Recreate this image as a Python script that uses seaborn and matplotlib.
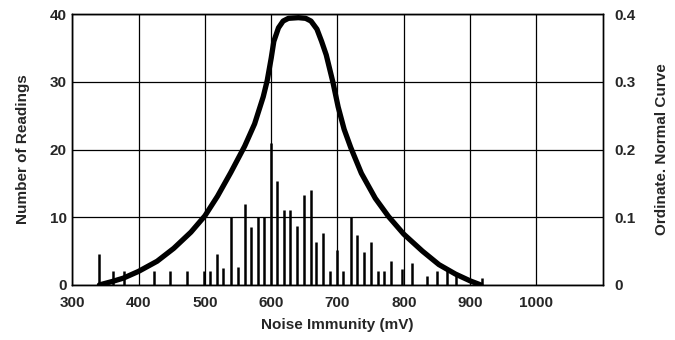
import seaborn as sns
import matplotlib.pyplot as plt
import pandas as pd

# readings histogram (thin bars)
bar_mv = [341, 361, 378, 423, 447, 473, 498, 507, 518, 528, 539, 550, 560, 570,
          580, 589, 600, 609, 619, 629, 639, 650, 660, 668, 678, 688, 700, 709,
          720, 730, 740, 750, 761, 770, 780, 798, 812, 835, 850, 865, 878, 918]
bar_count = [4.6, 2, 2, 2, 2, 2, 2, 2, 4.6, 2.5, 10, 2.6, 12, 8.5,
             10, 10, 21, 15.3, 11, 11, 8.7, 13.3, 14, 6.4, 7.7, 2, 5.2, 2,
             10, 7.4, 4.8, 6.4, 2, 2, 3.5, 2.3, 3.3, 1.3, 2, 2.2, 1.5, 1]

# normal curve ordinate
curve_mv = [341, 360, 377, 400, 428, 453, 479, 500, 519, 539, 560, 575, 588,
            594, 600, 604, 611, 618, 626, 641, 652, 660, 669, 676, 683, 693,
            701, 710, 720, 736, 757, 777, 800, 828, 853, 878, 900, 916]
curve_y = [0.0, 0.005, 0.010, 0.020, 0.035, 0.054, 0.078, 0.102, 0.131, 0.166,
           0.205, 0.238, 0.278, 0.302, 0.335, 0.360, 0.380, 0.390, 0.394, 0.395,
           0.394, 0.390, 0.378, 0.360, 0.340, 0.300, 0.263, 0.230, 0.203, 0.165,
           0.128, 0.101, 0.075, 0.050, 0.030, 0.016, 0.006, 0.0]

x_ticks = [300, 400, 500, 600, 700, 800, 900, 1000]

sns.set_style("white")
plt.rcParams['font.family'] = ['Liberation Sans', 'DejaVu Sans']
plt.rcParams['font.weight'] = 'bold'

fig = plt.figure(figsize=(6.75, 3.4), dpi=100)
ax = fig.add_axes([0.107, 0.162, 0.786, 0.796])

ax.vlines(bar_mv, 0, bar_count, color='black', linewidth=1.8)
ax.set_xlim(300, 1100)
ax.set_ylim(0, 40)
ax.set_xticks(x_ticks)
ax.set_yticks([0, 10, 20, 30, 40])
ax.grid(True, color='black', linewidth=0.9)
ax.set_axisbelow(True)
for s in ax.spines.values():
    s.set_color('black')
    s.set_linewidth(1.0)
ax.tick_params(axis='y', length=0, labelsize=11, pad=4)
ax.tick_params(axis='x', length=0, labelsize=11, pad=8)
ax.set_xlabel("Noise Immunity (mV)", fontsize=11, fontweight='bold', labelpad=6)
ax.set_ylabel("Number of Readings", fontsize=11, fontweight='bold', labelpad=14)

ax2 = ax.twinx()
df = pd.DataFrame({'mv': curve_mv, 'y': curve_y})
sns.lineplot(data=df, x='mv', y='y', ax=ax2, color='black', linewidth=3.8,
             solid_joinstyle='round', solid_capstyle='round')
ax2.set_ylim(0, 0.4)
ax2.set_yticks([0, 0.1, 0.2, 0.3, 0.4])
ax2.set_yticklabels(['0', '0.1', '0.2', '0.3', '0.4'])
ax2.tick_params(length=0, labelsize=11, pad=8)
ax2.set_ylabel("Ordinate. Normal Curve", fontsize=11, fontweight='bold', labelpad=14)
ax2.set_xlabel("")
for s in ax2.spines.values():
    s.set_color('black')
    s.set_linewidth(1.0)
for lbl in ax.get_xticklabels() + ax.get_yticklabels() + ax2.get_yticklabels():
    lbl.set_fontweight('bold')

fig.savefig("out.png", dpi=100)
